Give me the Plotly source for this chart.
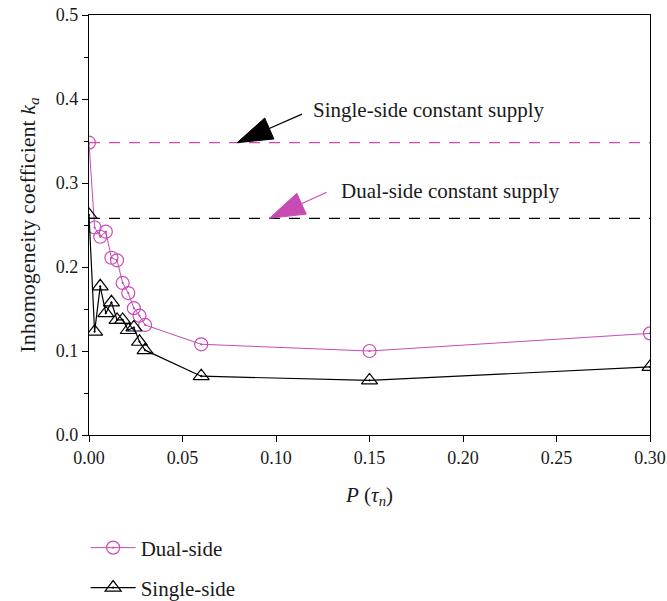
import plotly.graph_objects as go

# Data
p_vals = [0.0, 0.003, 0.006, 0.009, 0.012, 0.015, 0.018, 0.021, 0.024, 0.027, 0.030, 0.06, 0.15, 0.30]
dual_side = [0.348, 0.247, 0.236, 0.242, 0.211, 0.208, 0.181, 0.169, 0.151, 0.142, 0.131, 0.108, 0.100, 0.121]
single_side = [0.262, 0.123, 0.177, 0.145, 0.158, 0.137, 0.137, 0.125, 0.128, 0.111, 0.101, 0.070, 0.065, 0.081]
single_const = 0.348
dual_const = 0.258

x_ticks = [0, 0.05, 0.10, 0.15, 0.20, 0.25, 0.30]
x_ticklabels = ["0.00", "0.05", "0.10", "0.15", "0.20", "0.25", "0.30"]
y_ticks = [0, 0.1, 0.2, 0.3, 0.4, 0.5]
y_ticklabels = ["0.0", "0.1", "0.2", "0.3", "0.4", "0.5"]

MAG = "#C84BB4"
FONT = "Liberation Serif"
TXT = "#1a1a1a"

fig = go.Figure()

# constant supply dashed lines
fig.add_trace(go.Scatter(x=[0, 0.30], y=[single_const, single_const], mode="lines",
                         line=dict(color=MAG, width=1.2, dash="11px,9px"), showlegend=False, hoverinfo="skip"))
fig.add_trace(go.Scatter(x=[0, 0.30], y=[dual_const, dual_const], mode="lines",
                         line=dict(color="black", width=1.2, dash="11px,9px"), showlegend=False, hoverinfo="skip"))

fig.add_trace(go.Scatter(x=p_vals, y=dual_side, mode="lines+markers", name="Dual-side",
                         legend="legend",
                         line=dict(color=MAG, width=1),
                         marker=dict(symbol="circle-open-dot", size=13, color=MAG, line=dict(width=1.2, color=MAG))))
fig.add_trace(go.Scatter(x=p_vals, y=single_side, mode="lines+markers", name="Single-side",
                         legend="legend2",
                         line=dict(color="black", width=1.2),
                         marker=dict(symbol="triangle-up-open-dot", size=14, color="black", line=dict(width=1.2, color="black"))))

# annotation arrows (tail -> tip)
fig.add_trace(go.Scatter(x=[0.1139, 0.0792], y=[0.382, single_const], mode="lines+markers",
                         line=dict(color="black", width=1.3), showlegend=False, hoverinfo="skip",
                         marker=dict(symbol="arrow", size=[0, 37], angleref="previous", color="#000000",
                                     opacity=1, line=dict(width=1, color="#000000"))))
fig.add_trace(go.Scatter(x=[0.1271, 0.0965], y=[0.289, dual_const], mode="lines+markers",
                         line=dict(color=MAG, width=1.1), showlegend=False, hoverinfo="skip",
                         marker=dict(symbol="arrow", size=[0, 37], angleref="previous", color=MAG,
                                     opacity=1, line=dict(width=1, color=MAG))))

fig.add_annotation(x=0.1187, y=0.387, text="Single-side constant supply", showarrow=False,
                   xanchor="left", yanchor="middle", font=dict(family=FONT, size=21, color=TXT))
fig.add_annotation(x=0.1337, y=0.290, text="Dual-side constant supply", showarrow=False,
                   xanchor="left", yanchor="middle", font=dict(family=FONT, size=21, color=TXT))

legend_style = dict(xanchor="left", yanchor="middle", itemwidth=45,
                    font=dict(family=FONT, size=21, color=TXT), bgcolor="rgba(0,0,0,0)")

fig.update_layout(
    width=667, height=601,
    margin=dict(l=89, r=17, t=15, b=166, autoexpand=False),
    plot_bgcolor="white", paper_bgcolor="white",
    font=dict(family=FONT, size=18, color=TXT),
    legend=dict(x=-0.006, y=-0.269, **legend_style),
    legend2=dict(x=-0.006, y=-0.364, **legend_style),
    xaxis=dict(range=[0, 0.30], tickvals=x_ticks, ticktext=x_ticklabels,
               ticks="outside", ticklen=6, tickcolor="black", showline=True, linecolor="black",
               linewidth=1.2, mirror=True, showgrid=False, zeroline=False, automargin=False,
               tickfont=dict(size=18), ticklabeloverflow="allow",
               title=dict(text="<i>P</i> (<i>τ<sub>n</sub></i>)", standoff=20, font=dict(size=21))),
    yaxis=dict(range=[0, 0.5], tickvals=y_ticks, ticktext=y_ticklabels,
               ticks="outside", ticklen=6, tickcolor="black", showline=True, linecolor="black",
               linewidth=1.2, mirror=True, showgrid=False, zeroline=False, automargin=False,
               tickfont=dict(size=18), ticklabeloverflow="allow",
               minor=dict(tickvals=[0.05, 0.15, 0.25, 0.35, 0.45], ticks="outside", ticklen=4, tickcolor="black"),
               title=dict(text="Inhomogeneity coefficient <i>k<sub>a</sub></i>", standoff=14, font=dict(size=22))),
)

# remove the default 8px page margin so the 667x601 figure fills the window exactly
fig.write_html("out.html", config={"displayModeBar": False},
               post_script="document.body.style.margin='0px';")
